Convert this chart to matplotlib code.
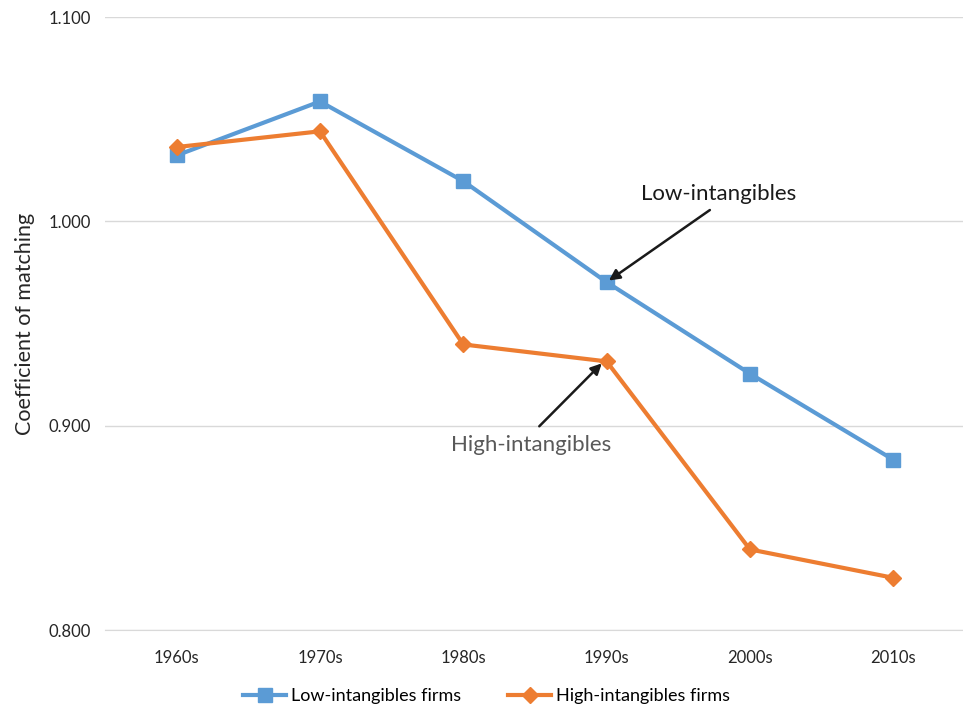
import matplotlib
matplotlib.use("Agg")
import matplotlib.pyplot as plt

plt.rcParams['font.family'] = ['Lato', 'DejaVu Sans']

decades = ['1960s', '1970s', '1980s', '1990s', '2000s', '2010s']
low_intangibles = [1.0323, 1.0587, 1.0197, 0.9703, 0.9255, 0.8834]
high_intangibles = [1.0364, 1.0441, 0.9398, 0.9315, 0.8395, 0.8256]
y_ticks = [0.800, 0.900, 1.000, 1.100]

blue = '#5b9bd5'
orange = '#ed7d31'

fig = plt.figure(figsize=(9.63, 7.12), dpi=100)
ax = fig.add_axes([0.109, 0.115, 0.893, 0.861])

x = list(range(len(decades)))
ax.plot(x, low_intangibles, color=blue, linewidth=3, marker='s', markersize=10,
        label='Low-intangibles firms')
ax.plot(x, high_intangibles, color=orange, linewidth=3, marker='D', markersize=8,
        label='High-intangibles firms')

ax.set_xlim(-0.5, len(decades) - 0.5)
ax.set_ylim(0.8, 1.1)
ax.set_yticks(y_ticks)
ax.set_yticklabels(['%.3f' % v for v in y_ticks])
ax.set_xticks(x)
ax.set_xticklabels(decades)
ax.tick_params(axis='both', length=0, labelsize=12, colors='#262626', pad=10)
ax.tick_params(axis='x', pad=14)
ax.grid(axis='y', color='#d9d9d9', linewidth=1)
ax.set_axisbelow(True)
for side in ['top', 'right', 'left']:
    ax.spines[side].set_visible(False)
ax.spines['bottom'].set_color('#d9d9d9')
ax.set_ylabel('Coefficient of matching', fontsize=15.5, color='#262626', labelpad=10)

# annotations
ax.annotate('Low-intangibles', xy=(3.0, low_intangibles[3]), xytext=(3.78, 1.0085),
            fontsize=16, color='#1a1a1a', ha='center', va='bottom',
            arrowprops=dict(arrowstyle='-|>', color='#1a1a1a', lw=1.8,
                            mutation_scale=16, relpos=(0.5, 0.0),
                            shrinkA=4, shrinkB=2))
ax.annotate('High-intangibles', xy=(2.98, high_intangibles[3]), xytext=(2.47, 0.8955),
            fontsize=16, color='#595959', ha='center', va='top',
            arrowprops=dict(arrowstyle='-|>', color='#1a1a1a', lw=1.8,
                            mutation_scale=16, relpos=(0.5, 1.0),
                            shrinkA=6, shrinkB=2))

fig.legend(loc='lower center', ncol=2, frameon=False, fontsize=13,
           bbox_to_anchor=(0.505, -0.012), handlelength=2.4, columnspacing=2.6,
           handletextpad=0.25)

fig.savefig('out.png', dpi=100)
